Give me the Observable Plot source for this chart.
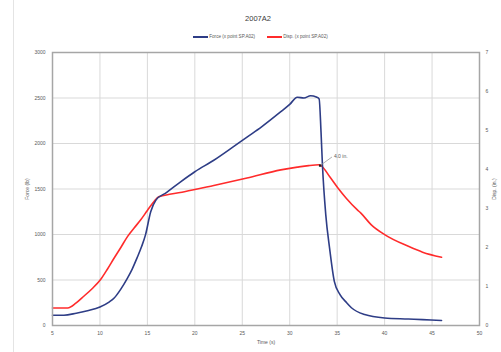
<!DOCTYPE html>
<html>
<head>
<meta charset="utf-8">
<script src="https://cdn.jsdelivr.net/npm/d3@7"></script>
<script src="https://cdn.jsdelivr.net/npm/@observablehq/plot@0.6"></script>
<style>
  body { margin: 0; background: #fff; font-family: "Liberation Sans", Arial, sans-serif; }
  #wrap { position: relative; width: 501px; height: 352px; overflow: hidden; }
  #border { position: absolute; left: 13px; top: 0; width: 1px; height: 352px; background: #e4e4e4; }
  #title { position: absolute; left: 0; width: 516px; top: 14px; text-align: center; font-size: 7.5px; color: #3a3a3a; }
  #legend { position: absolute; left: 0; width: 521px; top: 34px; text-align: center; font-size: 4.6px; color: #595959; white-space: nowrap; }
  .sw { display: inline-block; width: 15px; height: 1.5px; vertical-align: middle; margin-right: 1px; }
  .item { margin: 0 6px; }
  #chart { position: absolute; left: 0; top: 0; }
</style>
</head>
<body>
<div id="wrap">
  <div id="chart"></div>
  <div id="border"></div>
  <div id="title"></div>
  <div id="legend"></div>
</div>
<script>
const chartTitle = "2007A2";
const forceName = "Force (x point SP.A02)";
const dispName = "Disp. (x point SP.A02)";
const xLabel = "Time (s)";
const yLabel = "Force (lb)";
const y2Label = "Disp. (in.)";

const forceTime = [5, 6.2, 7.5, 8.8, 10, 11, 11.5, 12.2, 12.9, 13.4, 13.9, 14.4, 14.8, 15.35, 15.9, 17, 18.5, 20, 22, 24, 25.5, 27, 29, 30, 30.8, 31.5, 32.2, 32.8, 33.1, 33.3, 33.45, 33.8, 34.2, 34.7, 35.3, 36, 36.5, 37.9, 40, 42.5, 44, 46];
const forceValues = [113, 113, 135, 165, 204, 260, 302, 400, 521, 620, 740, 870, 996, 1250, 1378, 1460, 1579, 1690, 1816, 1960, 2071, 2180, 2344, 2430, 2508, 2500, 2525, 2510, 2490, 2125, 1760, 1215, 850, 485, 340, 250, 195, 120, 83, 72, 65, 55];

const dispTime = [5, 6.6, 7.5, 8.3, 9.2, 10.07, 10.8, 11.5, 12.2, 12.9, 13.6, 14.3, 15, 15.7, 16.2, 17.5, 18.9, 22, 25.5, 29.06, 30.8, 32, 33.1, 33.3, 34.2, 35.1, 36, 37.1, 37.5, 38.6, 40, 42.5, 44, 46];
const dispValues = [0.45, 0.45, 0.58, 0.75, 0.95, 1.18, 1.45, 1.73, 2.0, 2.28, 2.5, 2.71, 2.95, 3.18, 3.3, 3.37, 3.43, 3.59, 3.78, 3.99, 4.06, 4.1, 4.12, 4.1, 3.82, 3.52, 3.25, 2.97, 2.88, 2.58, 2.33, 2.03, 1.88, 1.75];

const xTicks = [5, 10, 15, 20, 25, 30, 35, 40, 45, 50];
const yTicks = [0, 500, 1000, 1500, 2000, 2500, 3000];
const y2Ticks = [0, 1, 2, 3, 4, 5, 6, 7];

const annotation = [{t: 33.2, disp: 4.1, label: "4.0 in.", dt: 1.25, dd: 0.22}];

const blue = "#2e3d86";
const red = "#ff2b2b";
const scale2 = 3000 / 7;

const force = forceTime.map((t, i) => ({t, v: forceValues[i]}));
const disp = dispTime.map((t, i) => ({t, v: dispValues[i] * scale2}));
const ann = annotation.map(a => ({x1: a.t, y1: a.disp * scale2, x2: a.t + a.dt, y2: (a.disp + a.dd) * scale2, label: a.label}));

document.getElementById("title").textContent = chartTitle;
document.getElementById("legend").innerHTML =
  `<span class="item"><span class="sw" style="background:${blue}"></span>${forceName}</span>` +
  `<span class="item"><span class="sw" style="background:${red}"></span>${dispName}</span>`;

const plot = Plot.plot({
  width: 501,
  height: 352,
  marginLeft: 52,
  marginRight: 22,
  marginTop: 52,
  marginBottom: 27,
  style: {fontFamily: "Liberation Sans, Arial, sans-serif", fontSize: "5px", color: "#595959", background: "transparent"},
  x: {domain: [5, 50]},
  y: {domain: [0, 3000]},
  marks: [
    Plot.gridX(xTicks, {stroke: "#d9d9d9", strokeOpacity: 1}),
    Plot.gridY(yTicks, {stroke: "#d9d9d9", strokeOpacity: 1}),
    Plot.axisX(xTicks, {tickSize: 0, tickPadding: 6, tickFormat: d => String(d), label: xLabel, labelAnchor: "center", labelOffset: 18, labelArrow: false}),
    Plot.axisY(yTicks, {tickSize: 0, tickPadding: 7, tickFormat: d => String(d), label: yLabel, labelAnchor: "center", labelOffset: 27, labelArrow: false}),
    Plot.axisY(y2Ticks.map(d => d * scale2), {anchor: "right", tickSize: 0, tickPadding: 6, tickFormat: v => String(Math.round(v / scale2)), label: y2Label, labelAnchor: "center", labelOffset: 16, labelArrow: false}),
    Plot.line(disp, {x: "t", y: "v", stroke: red, strokeWidth: 1.6, curve: "monotone-x"}),
    Plot.line(force, {x: "t", y: "v", stroke: blue, strokeWidth: 1.6, curve: "monotone-x"}),
    Plot.link(ann, {x1: "x1", y1: "y1", x2: "x2", y2: "y2", stroke: "#999", strokeWidth: 0.8}),
    Plot.dot(ann, {x: "x1", y: "y1", r: 1.3, fill: "#222", stroke: null, symbol: "square"}),
    Plot.text(ann, {x: "x2", y: "y2", text: "label", dx: 2, dy: -1, textAnchor: "start", fill: "#595959", fontSize: 5}),
    Plot.frame({stroke: "#a6a6a6", strokeWidth: 1.5})
  ]
});
document.getElementById("chart").appendChild(plot);
</script>
</body>
</html>
